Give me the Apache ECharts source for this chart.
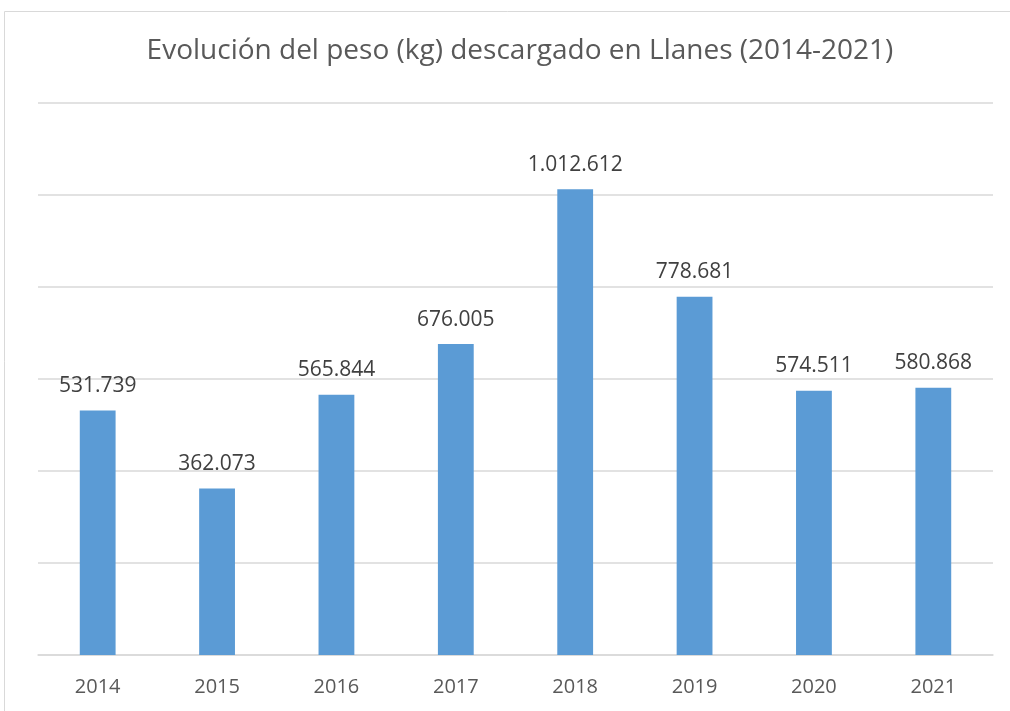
<!DOCTYPE html>
<html><head><meta charset="utf-8">
<script src="https://cdn.jsdelivr.net/npm/echarts@6/dist/echarts.min.js"></script>
<style>html,body{margin:0;padding:0;background:#fff}#c{width:1010px;height:711px}</style>
</head><body><div id="c"></div>
<script>
const categories = ['2014','2015','2016','2017','2018','2019','2020','2021'];
const values = [531739, 362073, 565844, 676005, 1012612, 778681, 574511, 580868];
const titleText = 'Evolución del peso (kg) descargado en Llanes (2014-2021)';

function fmt(v){ return String(v).replace(/\B(?=(\d{3})+(?!\d))/g, '.'); }

const chart = echarts.init(document.getElementById('c'));
chart.setOption({
  animation: false,
  graphic: [{
    type: 'rect', shape: {x: 4.5, y: 11.5, width: 1020, height: 720},
    style: {fill: 'none', stroke: '#d9d9d9', lineWidth: 1}, silent: true
  }],
  title: {
    text: titleText, left: 515, textAlign: 'center', top: 32,
    textStyle: {fontFamily: 'Open Sans', fontWeight: 'normal', fontSize: 28, color: '#595959'}
  },
  grid: {left: 38, right: 17, top: 103, bottom: 56, containLabel: false},
  xAxis: {
    type: 'category', data: categories,
    axisLine: {lineStyle: {color: '#d9d9d9', width: 1.5}},
    axisTick: {show: false},
    axisLabel: {margin: 22, fontFamily: 'Open Sans', fontSize: 20, color: '#595959'}
  },
  yAxis: {
    type: 'value', min: 0, max: 1200000, interval: 200000,
    axisLabel: {show: false}, axisLine: {show: false}, axisTick: {show: false},
    splitLine: {lineStyle: {color: '#d9d9d9', width: 1.5}}
  },
  series: [{
    type: 'bar', data: values, barWidth: '30%',
    itemStyle: {color: '#5b9bd5'},
    label: {show: true, position: 'top', distance: 14, fontFamily: 'Open Sans', fontSize: 21, color: '#404040',
      formatter: p => fmt(p.value)}
  }]
});
</script></body></html>
